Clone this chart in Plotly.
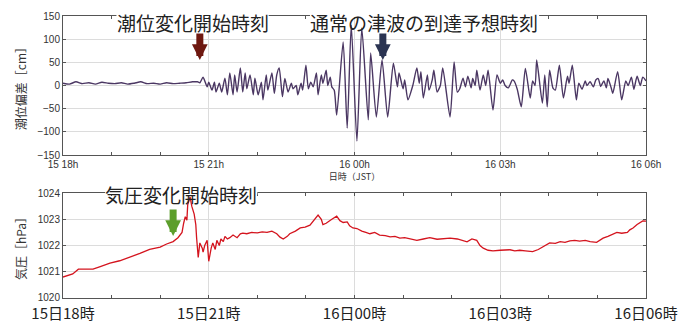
import pandas as pd
import plotly.graph_objects as go

# ---- data (minutes after 15日18時 JST) ----
tide_minutes = [0, 8, 16, 24, 32, 40, 48, 56, 64, 72, 80, 88, 96, 104, 112, 120, 128, 136, 144, 152, 160, 166, 169,
                173, 178, 180, 184, 187, 189, 193, 196, 200, 203, 206, 210, 212, 215, 219, 222, 225, 227, 231, 235,
                237, 241, 245, 247, 251, 253, 258, 261, 264, 267, 271, 274, 278, 282, 284, 288, 290, 294, 296, 300,
                303, 306, 309, 313, 315, 319, 321, 325, 327, 330, 332, 335, 338, 346, 351, 356, 363, 369, 377, 380,
                387, 394, 401, 408, 413, 415, 420, 422, 426, 432, 437, 440, 442, 445, 450, 452, 456, 458, 462, 466,
                469, 478, 483, 487, 490, 494, 497, 500, 504, 506, 509, 511, 515, 519, 522, 525, 531, 536, 540, 543,
                546, 550, 555, 557, 561, 566, 571, 577, 580, 583, 585, 592, 595, 598, 601, 605, 608, 613, 618, 623,
                625, 629, 634, 637, 641, 645, 647, 651, 655, 658, 661, 664, 668, 671, 673, 677, 679, 685, 690, 695,
                698, 702, 705, 709, 713, 716, 720]
tide_cm = [5, 3, 8, 4, 6, 3, 7, 5, 4, 6, 3, 5, 8, 4, 5, 3, 6, 4, 5, 6, 8, 8, 6,
           18, -3, 7, -10, 7, -14, 5, -14, 16, -20, 27, -20, 23, -14, 38, -14, 27, -7, 23, -20,
           16, -20, 7, -31, 23, -10, 27, -17, 23, 38, -24, 15, -14, 5, -7, 0, -20, 5, -10, 44,
           -7, 7, -3, 27, -20, 23, 5, 33, 0, 18, -3, -10, -64, 94, -92, 130, -120, 124, -74, 70,
           -68, 55, -68, 48, -3, 27, -7, 12, -31, 0, 38, 5, 30, -27, 23, -10, 12, 33, -14, 0,
           38, -68, 51, -14, -7, 16, -3, 20, -5, 15, 0, 33, -10, 23, 0, 33, -53, 23, 5, 12,
           0, -5, 12, 10, -8, -46, 37, -27, 10, 0, 55, -38, 23, -46, 33, -5, -10, 44, -27, 20,
           5, 44, -31, 5, -8, 10, 0, 8, -3, 12, 15, -2, 10, -5, 15, -5, -17, 30, -31, 10,
           0, 18, -8, 20, 0, 18, 10]

pres_minutes = [0, 6, 12, 19, 30, 37, 46, 58, 70, 83, 95, 107, 120, 128, 136, 142, 147, 149, 151, 153, 154, 157,
                159, 162, 164, 165, 167, 169, 172, 173, 175, 178, 179, 180, 183, 185, 188, 190, 193, 195, 198, 200,
                203, 206, 210, 215, 219, 222, 227, 233, 240, 246, 252, 258, 264, 268, 272, 277, 280, 287, 293, 299,
                305, 310, 315, 319, 321, 325, 327, 332, 338, 342, 346, 351, 354, 358, 363, 369, 374, 379, 385, 391,
                398, 404, 410, 416, 422, 429, 437, 445, 453, 462, 469, 478, 487, 494, 499, 505, 511, 515, 519, 525,
                531, 540, 546, 552, 558, 564, 571, 580, 587, 593, 598, 601, 608, 614, 620, 626, 632, 638, 645, 651,
                659, 663, 667, 673, 678, 684, 690, 697, 700, 704, 709, 713, 716, 720]
pres_hpa = [1020.80, 1020.85, 1020.92, 1021.10, 1021.10, 1021.10, 1021.20, 1021.33, 1021.42, 1021.56, 1021.70,
            1021.85, 1021.94, 1022.06, 1022.15, 1022.30, 1022.50, 1022.85, 1023.10, 1022.97, 1023.55, 1023.85,
            1023.50, 1023.20, 1022.80, 1022.30, 1021.55, 1022.10, 1021.90, 1021.75, 1022.00, 1022.20, 1021.70,
            1021.40, 1021.90, 1022.10, 1021.85, 1022.20, 1022.00, 1022.25, 1022.15, 1022.35, 1022.25, 1022.30,
            1022.40, 1022.30, 1022.45, 1022.47, 1022.45, 1022.50, 1022.48, 1022.52, 1022.50, 1022.55, 1022.45,
            1022.32, 1022.25, 1022.35, 1022.45, 1022.55, 1022.67, 1022.70, 1022.78, 1022.95, 1023.16, 1023.00,
            1022.80, 1022.85, 1022.90, 1023.00, 1023.12, 1022.95, 1022.88, 1022.90, 1022.75, 1022.67, 1022.65,
            1022.55, 1022.50, 1022.45, 1022.50, 1022.40, 1022.38, 1022.33, 1022.35, 1022.28, 1022.30, 1022.25,
            1022.20, 1022.25, 1022.30, 1022.24, 1022.25, 1022.28, 1022.25, 1022.20, 1022.14, 1022.25, 1022.20,
            1022.00, 1021.90, 1021.82, 1021.80, 1021.82, 1021.83, 1021.84, 1021.80, 1021.82, 1021.80, 1021.77,
            1021.85, 1021.95, 1022.05, 1022.10, 1022.08, 1022.15, 1022.12, 1022.18, 1022.20, 1022.17, 1022.20,
            1022.15, 1022.12, 1022.20, 1022.28, 1022.35, 1022.42, 1022.50, 1022.47, 1022.50, 1022.60, 1022.67,
            1022.80, 1022.90, 1022.94, 1022.93]

tide_ticks = [-150, -100, -50, 0, 50, 100, 150]
pres_ticks = [1020, 1021, 1022, 1023, 1024]

# event markers: (minutes, value)
tide_change_start = (169, 55)
tsunami_expected = (395, 55)
pres_change_start = (136, 1022.36)

base = pd.Timestamp("2022-01-15 18:00")
def t(m):
    return base + pd.to_timedelta(m, unit="min")

tide_x = [t(m) for m in tide_minutes]
pres_x = [t(m) for m in pres_minutes]
x_range = [t(0), t(720)]

FONT = "Liberation Sans, Noto Sans CJK JP, sans-serif"
CJK = "Noto Sans CJK JP, sans-serif"

fig = go.Figure()
fig.add_trace(go.Scatter(x=tide_x, y=tide_cm, mode="lines", line=dict(color="#4b3763", width=1.4, shape="spline", smoothing=0.6),
                         xaxis="x", yaxis="y", showlegend=False, hoverinfo="skip"))
fig.add_trace(go.Scatter(x=pres_x, y=pres_hpa, mode="lines", line=dict(color="#d4141e", width=1.3),
                         xaxis="x2", yaxis="y2", showlegend=False, hoverinfo="skip"))

axis_common = dict(showline=True, mirror="ticks", linecolor="#555", linewidth=1, ticks="inside", ticklen=3,
                   tickcolor="#555", gridcolor="#dcdcdc", gridwidth=1, zeroline=False, automargin=False)

# page body has an 8px default margin, so the figure is sized 8px smaller to fit the 688x328 window
fig.update_layout(
    width=680, height=320,
    margin=dict(l=55, r=42, t=8, b=30),
    paper_bgcolor="white", plot_bgcolor="white",
    font=dict(family=FONT, size=10, color="#333"),
    xaxis=dict(domain=[0, 1], anchor="y", type="date", range=x_range, tick0=t(0), dtick=3 * 3600 * 1000,
               tickformat="%d %Hh", tickfont=dict(size=10, color="#333"),
               minor=dict(dtick=3600 * 1000, ticks="inside", ticklen=3, tickcolor="#555", showgrid=False),
               title=dict(text="日時（JST）", font=dict(size=9, family=CJK, color="#333"), standoff=1),
               **axis_common),
    yaxis=dict(domain=[0.507, 1], anchor="x", range=[-150, 150], tickvals=tide_ticks,
               tickfont=dict(size=10, color="#333"),
               title=dict(text="潮位偏差［cm］", font=dict(size=12, family=CJK, color="#333"), standoff=8),
               **axis_common),
    xaxis2=dict(domain=[0, 1], anchor="y2", type="date", range=x_range, tick0=t(0), dtick=3 * 3600 * 1000,
                tickformat="%d日%H時", tickfont=dict(size=15, family=CJK, color="#222"), ticklabelstandoff=2,
                minor=dict(dtick=3600 * 1000, ticks="inside", ticklen=3, tickcolor="#555", showgrid=False),
                **axis_common),
    yaxis2=dict(domain=[0, 0.372], anchor="x2", range=[1020, 1024], tickvals=pres_ticks,
                tickfont=dict(size=10, color="#333"),
                title=dict(text="気圧［hPa］", font=dict(size=12, family=CJK, color="#333"), standoff=8),
                **axis_common),
)

# text labels (the frame line is blanked behind each label, the curves stay visible)
labels = [("潮位変化開始時刻", 160, 66, 254, "x", "y", 150, "top", 8),
          ("通常の津波の到達予想時刻", 446, 305, 588, "x", "y", 150, "top", 8),
          ("気圧変化開始時刻", 146, 52, 240, "x2", "y2", 1024, "middle", -1)]
for text, mc, m0, m1, xr, yr, yv, anc, shift in labels:
    fig.add_shape(type="line", xref=xr, yref=f"{yr} domain", x0=t(m0), x1=t(m1), y0=1, y1=1,
                  line=dict(color="white", width=3), layer="above")
    fig.add_annotation(x=t(mc), y=yv, xref=xr, yref=yr, text=text, showarrow=False,
                       font=dict(size=19, family=CJK, color="#222"), yanchor=anc, yshift=shift, borderpad=0)

# arrows
for (m, v), xr, yr, col in [(tide_change_start, "x", "y", "#6e1810"),
                             (tsunami_expected, "x", "y", "#2b3452"),
                             (pres_change_start, "x2", "y2", "#5c9e2c")]:
    fig.add_annotation(x=t(m), y=v, xref=xr, yref=yr, text="", showarrow=True, ax=0, ay=-28,
                       arrowhead=2, arrowwidth=7, arrowsize=0.45, arrowcolor=col)

fig.write_html("out.html")
